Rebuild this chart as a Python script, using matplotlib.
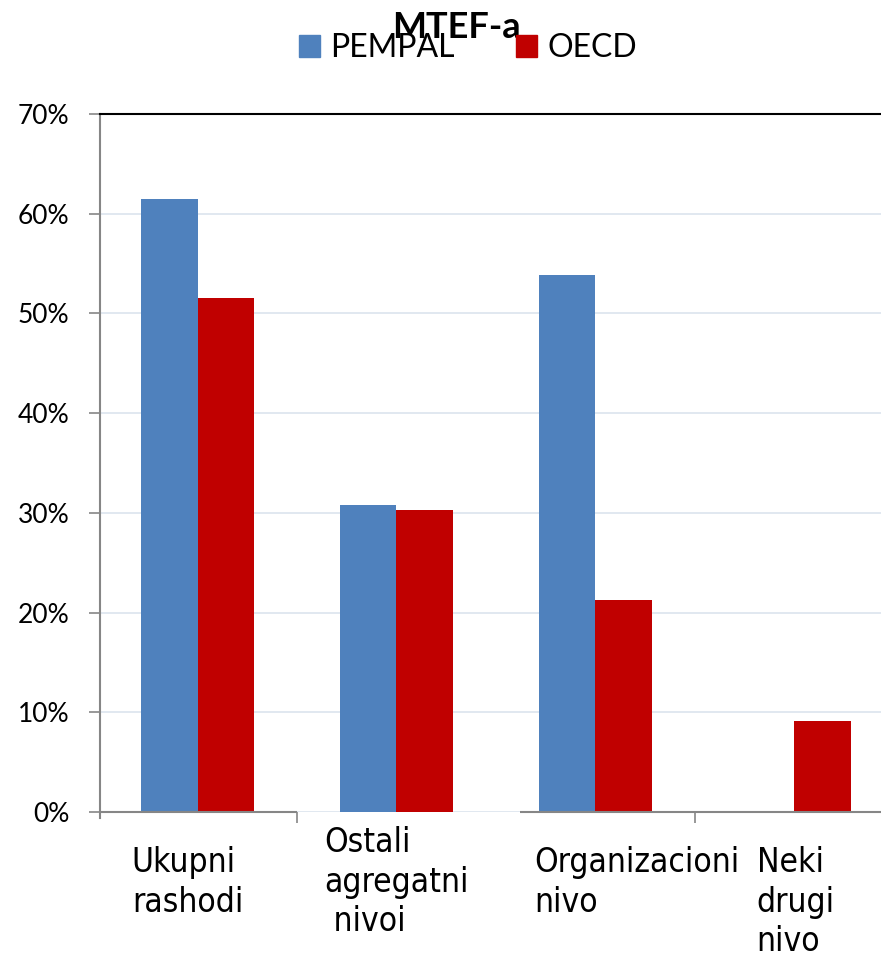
import matplotlib
matplotlib.use("Agg")
import matplotlib.pyplot as plt
from matplotlib.patches import Patch
from matplotlib.transforms import blended_transform_factory
import numpy as np

categories = ["Ukupni\nrashodi", "Ostali\nagregatni\n nivoi", "Organizacioni\nnivo", "Neki\ndrugi\nnivo"]
pempal = [61.5, 30.8, 53.9, 0.0]
oecd = [51.5, 30.3, 21.3, 9.1]
yticks = [0, 10, 20, 30, 40, 50, 60, 70]

BLUE = "#4F81BD"
RED = "#C00000"
GRID = "#DCE4EE"
AXIS = "#868686"

fig = plt.figure(figsize=(8.81, 9.55), dpi=100)
ax = fig.add_axes([100 / 881, 143 / 955, 781 / 881, 698 / 955])

x = np.arange(len(categories))
w = 0.286
ax.bar(x - w / 2, pempal, w, color=BLUE, zorder=3)
ax.bar(x + w / 2, oecd, w, color=RED, zorder=3)

ax.set_xlim(-0.49, 3.435)
ax.set_ylim(0, 70)
ax.set_yticks(yticks)
ax.set_yticklabels(["%d%%" % v for v in yticks], fontsize=19, family=["Lato", "DejaVu Sans"])
ax.yaxis.grid(True, color=GRID, linewidth=1.2, zorder=0)
ax.tick_params(axis="y", length=8, width=1.2, color=AXIS, pad=14)

# baseline with the gap seen in the original
for sp in ["right", "bottom"]:
    ax.spines[sp].set_visible(False)
ax.spines["left"].set_color(AXIS)
ax.spines["left"].set_linewidth(1.5)
ax.spines["left"].set_bounds(-0.6, 70)
ax.spines["top"].set_color("black")
ax.spines["top"].set_linewidth(1.5)
ax.hlines(0, -0.49, 0.5, color=AXIS, linewidth=1.5, zorder=4, clip_on=False)
ax.hlines(0, 1.62, 3.435, color=AXIS, linewidth=1.5, zorder=4, clip_on=False)
ax.set_xticks([0.5, 2.5])
ax.set_xticklabels([])
ax.tick_params(axis="x", length=8, width=1.2, color=AXIS)

# category labels
tr = blended_transform_factory(ax.transData, fig.transFigure)
dx = [-0.33, -0.365, -0.31, -0.19]
ytop = [846, 826, 846, 846]
for i, lab in enumerate(categories):
    ax.text(i + dx[i], (955 - ytop[i]) / 955, lab, transform=tr,
            ha="left", va="top", fontsize=24, linespacing=1.25,
            family="DejaVu Sans", fontstretch="condensed")

fig.text(456 / 881, 1 - 28 / 955, "MTEF-a", ha="center", va="center",
         fontsize=26, fontweight="bold", family=["Lato", "DejaVu Sans"])

handles = [Patch(color=BLUE, label="PEMPAL"), Patch(color=RED, label="OECD")]
fig.legend(handles=handles, loc="center", bbox_to_anchor=(468 / 881, 1 - 48 / 955),
           ncol=2, frameon=False, prop={"family": "Lato", "size": 23},
           handlelength=0.66, handleheight=0.66, handletextpad=0.32, columnspacing=1.9,
           borderpad=0, borderaxespad=0)

fig.savefig("out.png", dpi=100)
